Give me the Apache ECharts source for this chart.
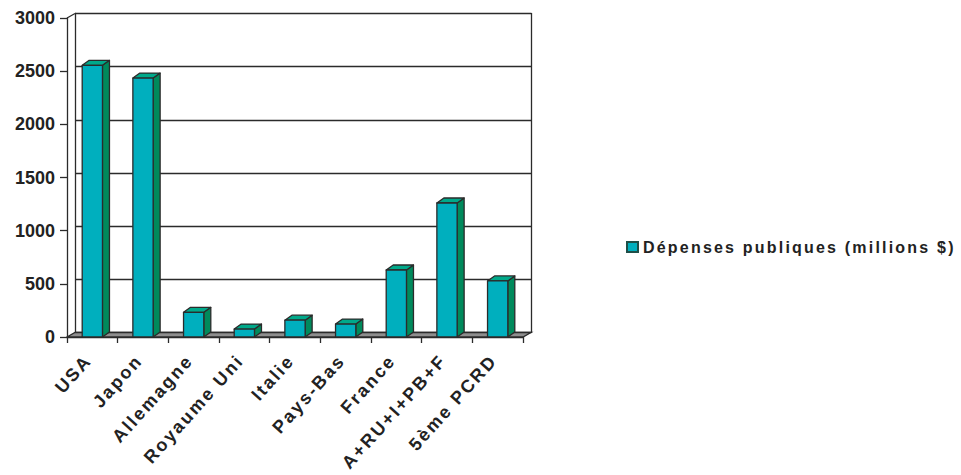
<!DOCTYPE html>
<html>
<head>
<meta charset="utf-8">
<script src="https://cdn.jsdelivr.net/npm/echarts@6/dist/echarts.min.js"></script>
<style>html,body{margin:0;padding:0;background:#fff;}#c{width:961px;height:475px;}</style>
</head>
<body>
<div id="c"></div>
<script>
const categories = ['USA', 'Japon', 'Allemagne', 'Royaume Uni', 'Italie', 'Pays-Bas', 'France', 'A+RU+I+PB+F', '5ème PCRD'];
const values = [2555, 2435, 232, 75, 158, 122, 630, 1260, 527];
const seriesName = 'Dépenses publiques (millions $)';
const yMin = 0, yMax = 3000, yStep = 500;

const LINE = '#2b2b2b';
const FRONT = '#00afbe';
const SIDE = '#008a5c';
const TOP = '#00a98a';
const FLOOR = '#8e8e8e';
const WALL_DX = 8, WALL_DY = -4.5;
const BAR_DX = 7, BAR_DY = -5;
const FONT = 'Liberation Sans, Arial, sans-serif';

const chart = echarts.init(document.getElementById('c'), null, {renderer: 'svg'});

const frontGrid = {left: 67, right: 438, top: 18, bottom: 138};
const backGrid = {left: 67 + WALL_DX, right: 438 - WALL_DX, top: 18 + WALL_DY, bottom: 138 - WALL_DY};

function renderFloor(params, api) {
  const cs = params.coordSys;
  const x0 = cs.x, x1 = cs.x + cs.width, yb = cs.y + cs.height, yt = cs.y;
  return {
    type: 'group',
    children: [
      {type: 'polygon', shape: {points: [[x0, yb], [x1, yb], [x1 + WALL_DX, yb + WALL_DY], [x0 + WALL_DX, yb + WALL_DY]]},
       style: {fill: FLOOR, stroke: LINE, lineWidth: 1.3}},
      {type: 'line', shape: {x1: x0, y1: yt, x2: x0 + WALL_DX, y2: yt + WALL_DY}, style: {stroke: LINE, lineWidth: 1.3}}
    ]
  };
}

function renderBar(params, api) {
  const top = api.coord([api.value(0), api.value(1)]);
  const base = api.coord([api.value(0), 0]);
  const w = api.size([1, 0])[0] * 0.4;
  const l = top[0] - w / 2, r = top[0] + w / 2, t = top[1], b = base[1];
  const st = {stroke: LINE, lineWidth: 1.3, lineJoin: 'round'};
  return {
    type: 'group',
    children: [
      {type: 'polygon', shape: {points: [[r, t], [r + BAR_DX, t + BAR_DY], [r + BAR_DX, b + BAR_DY], [r, b]]}, style: Object.assign({fill: SIDE}, st)},
      {type: 'polygon', shape: {points: [[l, t], [l + BAR_DX, t + BAR_DY], [r + BAR_DX, t + BAR_DY], [r, t]]}, style: Object.assign({fill: TOP}, st)},
      {type: 'polygon', shape: {points: [[l, t], [r, t], [r, b], [l, b]]}, style: Object.assign({fill: FRONT}, st)}
    ]
  };
}

const option = {
  animation: false,
  backgroundColor: '#fff',
  textStyle: {fontFamily: FONT},
  grid: [
    Object.assign({}, frontGrid),
    Object.assign({}, backGrid)
  ],
  xAxis: [
    {type: 'category', gridIndex: 0, data: categories, boundaryGap: true,
     axisLine: {show: true, lineStyle: {color: LINE, width: 1.3}},
     axisTick: {show: true, alignWithLabel: false, length: 6, lineStyle: {color: LINE, width: 1.3}},
     axisLabel: {rotate: 48, interval: 0, margin: 16, padding: [0, 6, 0, 0], color: '#222', fontWeight: 'bold', fontSize: 18, fontFamily: FONT},
     splitLine: {show: false}},
    {type: 'category', gridIndex: 1, data: categories, show: false}
  ],
  yAxis: [
    {type: 'value', gridIndex: 0, min: yMin, max: yMax, interval: yStep,
     axisLine: {show: true, lineStyle: {color: LINE, width: 1.3}},
     axisTick: {show: true, length: 7, lineStyle: {color: LINE, width: 1.3}},
     axisLabel: {color: '#222', fontWeight: 'bold', fontSize: 18, margin: 12, fontFamily: FONT,
                 formatter: v => String(v)},
     splitLine: {show: false}},
    {type: 'value', gridIndex: 1, min: yMin, max: yMax, interval: yStep, position: 'left',
     axisLine: {show: true, lineStyle: {color: LINE, width: 1.3}},
     axisTick: {show: false}, axisLabel: {show: false},
     splitLine: {show: true, lineStyle: {color: LINE, width: 1.3}}},
    {type: 'value', gridIndex: 1, min: yMin, max: yMax, interval: yStep, position: 'right',
     axisLine: {show: true, onZero: false, lineStyle: {color: LINE, width: 1.3}},
     axisTick: {show: false}, axisLabel: {show: false}, splitLine: {show: false}}
  ],
  legend: {
    data: [{name: seriesName, icon: 'rect'}],
    left: 621, top: 234,
    itemWidth: 11, itemHeight: 10, itemGap: 3,
    textStyle: {color: '#222', fontWeight: 'bold', fontSize: 16, fontFamily: FONT}
  },
  series: [
    {type: 'custom', name: 'floor', xAxisIndex: 0, yAxisIndex: 0, z: 1, silent: true,
     renderItem: renderFloor, data: [[0, 0]], encode: {x: 0, y: 1}},
    {type: 'custom', name: seriesName, xAxisIndex: 0, yAxisIndex: 0, z: 5,
     itemStyle: {color: FRONT, borderColor: '#1f4f48', borderWidth: 1},
     renderItem: renderBar, data: values.map((v, i) => [i, v]), encode: {x: 0, y: 1}}
  ]
};
chart.setOption(option);

// Tracked (letter-spaced) text as in the original
document.querySelectorAll('#c text').forEach(t => {
  if (t.textContent === seriesName) t.style.letterSpacing = '2.2px';
  else if (categories.indexOf(t.textContent) >= 0) t.style.letterSpacing = '2.2px';
});
</script>
</body>
</html>
